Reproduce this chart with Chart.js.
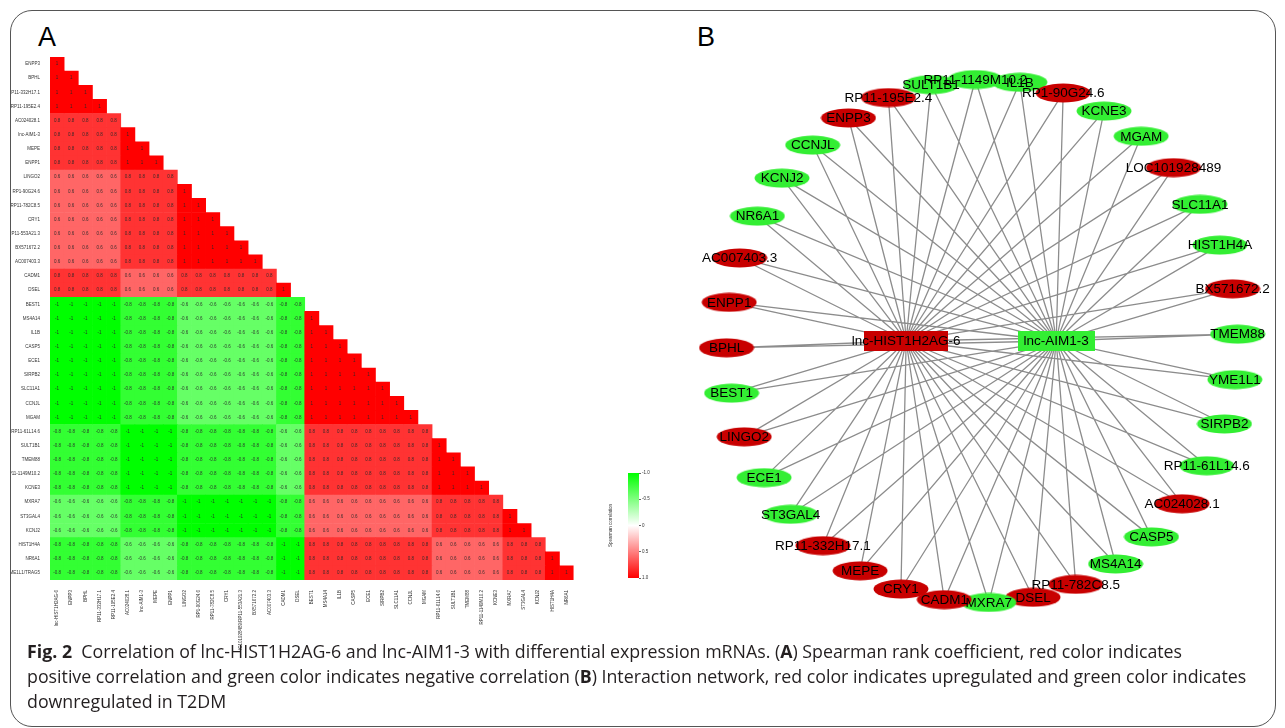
<!DOCTYPE html>
<html>
<head>
<meta charset="utf-8">
<script src="https://cdn.jsdelivr.net/npm/chart.js@4.4.0/dist/chart.umd.min.js"></script>
<style>
body { margin: 0; background: #fff; width: 1285px; height: 728px; overflow: hidden; position: relative; font-family: "Liberation Sans", Arial, sans-serif; }
#frame { position: absolute; left: 10px; top: 10px; width: 1266px; height: 717px; border: 1.3px solid #555; border-radius: 22px; box-sizing: border-box; }
canvas { position: absolute; }
#heat { left: 11px; top: 50px; }
#bar { left: 606px; top: 468px; }
#net { left: 690px; top: 40px; }
.panel { position: absolute; font-size: 27px; color: #000; }
#caption { position: absolute; left: 27px; top: 639px; font-family: "Open Sans", sans-serif; font-size: 17.8px; line-height: 25px; color: #231f20; white-space: nowrap; }
</style>
</head>
<body>
<div id="frame"></div>
<div class="panel" style="left:38px;top:22px">A</div>
<div class="panel" style="left:697px;top:22px">B</div>
<canvas id="heat" width="600" height="600"></canvas>
<canvas id="bar" width="50" height="115"></canvas>
<canvas id="net" width="590" height="600"></canvas>
<div id="caption">
<div><b>Fig. 2</b>&nbsp; Correlation of lnc-HIST1H2AG-6 and lnc-AIM1-3 with differential expression mRNAs. (<b>A</b>) Spearman rank coefficient, red color indicates</div>
<div>positive correlation and green color indicates negative correlation (<b>B</b>) Interaction network, red color indicates upregulated and green color indicates</div>
<div>downregulated in T2DM</div>
</div>
<script>
// ---- panel A: correlation matrix ----
var varNames = ["lnc-HIST1H2AG-6", "ENPP3", "BPHL", "RP11-332H17.1", "RP11-195E2.4", "AC024028.1", "lnc-AIM1-3", "MEPE", "ENPP1",
  "LINGO2", "RP1-90G24.6", "RP11-782C8.5", "CRY1", "LOC101928489/RP11-553A21.3", "BX571672.2", "AC007403.3",
  "CADM1", "DSEL", "BEST1", "MS4A14", "IL1B", "CASP5", "ECE1", "SIRPB2", "SLC11A1", "CCNJL", "MGAM",
  "RP11-61L14.6", "SULT1B1", "TMEM88", "RP11-1149M10.2", "KCNE3", "MXRA7", "ST3GAL4", "KCNJ2", "HIST1H4A", "NR6A1", "YME1L1/TRAG5"];
// block each gene falls in (the matrix is made of constant blocks)
var varGroups = [0, 0, 0, 0, 0, 1, 1, 1, 1, 2, 2, 2, 2, 2, 2, 2, 3, 3, 4, 4, 4, 4, 4, 4, 4, 4, 4, 5, 5, 5, 5, 5, 6, 6, 6, 7, 7, 7];
// spearman value between blocks
var groupCorr = [
  [1, 0.8, 0.6, 0.8, -1, -0.8, -0.6, -0.8],
  [0.8, 1, 0.8, 0.6, -0.8, -1, -0.8, -0.6],
  [0.6, 0.8, 1, 0.8, -0.6, -0.8, -1, -0.8],
  [0.8, 0.6, 0.8, 1, -0.8, -0.6, -0.8, -1],
  [-1, -0.8, -0.6, -0.8, 1, 0.8, 0.6, 0.8],
  [-0.8, -1, -0.8, -0.6, 0.8, 1, 0.8, 0.6],
  [-0.6, -0.8, -1, -0.8, 0.6, 0.8, 1, 0.8],
  [-0.8, -0.6, -0.8, -1, 0.8, 0.6, 0.8, 1]
];
var barTicks = [-1, -0.5, 0, 0.5, 1];
var barStops = ["#00ff00", "#ffffff", "#ff0000"];

var colLabels = varNames.slice(0, varNames.length - 1);
var rowLabels = varNames.slice(1);
var nRows = rowLabels.length;

function corrColor(v) {
  var w = Math.round(255 * (1 - Math.abs(v)));
  return v > 0 ? "rgb(255," + w + "," + w + ")" : "rgb(" + w + ",255," + w + ")";
}
function corrAt(r, c) {
  return groupCorr[varGroups[r + 1]][varGroups[c]];
}

// one stacked dataset per row, bottom row first
var heatSets = [];
for (var r = nRows - 1; r >= 0; r--) {
  var vals = [], cols = [], corr = [];
  for (var c = 0; c < colLabels.length; c++) {
    if (c <= r) {
      vals.push(1);
      corr.push(corrAt(r, c));
      cols.push(corrColor(corrAt(r, c)));
    } else {
      vals.push(null);
      corr.push(null);
      cols.push("rgba(0,0,0,0)");
    }
  }
  heatSets.push({ label: rowLabels[r], data: vals, corr: corr, backgroundColor: cols, borderWidth: 0, barPercentage: 1, categoryPercentage: 1 });
}

var cellText = {
  id: "cellText",
  afterDatasetsDraw: function (chart) {
    var ctx = chart.ctx;
    ctx.save();
    ctx.font = "4.5px 'Liberation Sans'";
    ctx.fillStyle = "rgba(40,40,40,0.9)";
    ctx.textAlign = "center";
    ctx.textBaseline = "middle";
    chart.data.datasets.forEach(function (ds, i) {
      chart.getDatasetMeta(i).data.forEach(function (el, j) {
        if (ds.corr[j] === null) return;
        ctx.fillText(String(ds.corr[j]), el.x, (el.y + el.base) / 2);
      });
    });
    ctx.restore();
  }
};

new Chart(document.getElementById("heat"), {
  type: "bar",
  data: { labels: colLabels, datasets: heatSets },
  options: {
    responsive: false,
    devicePixelRatio: 1,
    animation: false,
    layout: { padding: { top: 7, right: 37.4, left: 0, bottom: 0 } },
    plugins: { legend: { display: false }, tooltip: { enabled: false } },
    scales: {
      x: {
        stacked: true,
        grid: { display: false },
        border: { display: false },
        ticks: { autoSkip: false, minRotation: 90, maxRotation: 90, padding: 2, color: "#333", font: { size: 4.5, family: "Liberation Sans" } },
        afterFit: function (axis) { axis.height = 70; }
      },
      y: {
        stacked: true,
        min: 0,
        max: nRows,
        grid: { display: false },
        border: { display: false },
        afterBuildTicks: function (axis) {
          axis.ticks = rowLabels.map(function (n, i) { return { value: nRows - i - 0.5 }; });
        },
        ticks: {
          padding: 2,
          color: "#333",
          font: { size: 4.5, family: "Liberation Sans" },
          callback: function (v) { return rowLabels[Math.round(nRows - 0.5 - v)]; }
        },
        afterFit: function (axis) { axis.width = 39; }
      }
    }
  },
  plugins: [cellText]
});

// colour key
new Chart(document.getElementById("bar"), {
  type: "bar",
  data: {
    labels: [""],
    datasets: [{
      data: [[-1, 1]],
      barPercentage: 1,
      categoryPercentage: 1,
      backgroundColor: function (c) {
        var a = c.chart.chartArea;
        if (!a) return null;
        var g = c.chart.ctx.createLinearGradient(0, a.top, 0, a.bottom);
        barStops.forEach(function (s, i) { g.addColorStop(i / (barStops.length - 1), s); });
        return g;
      }
    }]
  },
  options: {
    responsive: false,
    devicePixelRatio: 1,
    animation: false,
    layout: { padding: { top: 5, bottom: 5 } },
    plugins: { legend: { display: false }, tooltip: { enabled: false } },
    scales: {
      x: { display: false },
      y: {
        position: "right",
        reverse: true,
        min: -1,
        max: 1,
        border: { display: false },
        grid: { drawOnChartArea: false, tickLength: 2, color: "#666" },
        afterBuildTicks: function (axis) { axis.ticks = barTicks.map(function (t) { return { value: t }; }); },
        ticks: { padding: 1, color: "#333", font: { size: 4.5, family: "Liberation Sans" } },
        afterFit: function (axis) { axis.width = 17; }
      },
      yl: {
        position: "left",
        min: -1,
        max: 1,
        border: { display: false },
        grid: { display: false },
        ticks: { display: false },
        title: { display: true, text: "Spearman correlation", padding: 2, color: "#333", font: { size: 4.5, family: "Liberation Sans" } },
        afterFit: function (axis) { axis.width = 22; }
      }
    }
  }
});

// ---- panel B: interaction network ----
var nodeNames = ["RP11-1149M10.2", "IL1B", "RP1-90G24.6", "KCNE3", "MGAM", "LOC101928489", "SLC11A1", "HIST1H4A", "BX571672.2",
  "TMEM88", "YME1L1", "SIRPB2", "RP11-61L14.6", "AC024028.1", "CASP5", "MS4A14", "RP11-782C8.5", "DSEL", "MXRA7",
  "CADM1", "CRY1", "MEPE", "RP11-332H17.1", "ST3GAL4", "ECE1", "LINGO2", "BEST1", "BPHL", "ENPP1", "AC007403.3",
  "NR6A1", "KCNJ2", "CCNJL", "ENPP3", "RP11-195E2.4", "SULT1B1"];
var nodeRegulation = ["down", "down", "up", "down", "down", "up", "down", "down", "up",
  "down", "down", "down", "down", "up", "down", "down", "up", "up", "down",
  "up", "up", "up", "up", "down", "down", "up", "down", "up", "up", "up",
  "down", "down", "down", "up", "up", "down"];
var hubNames = ["lnc-HIST1H2AG-6", "lnc-AIM1-3"];
var hubRegulation = ["up", "down"];

var regColor = { up: "#c80000", down: "#33ee33" };

// circular layout, clockwise from the top, ring turned a little anticlockwise
var ringTurn = -1.5 * Math.PI / 180;
var nodePts = nodeNames.map(function (n, i) {
  var t = (i / nodeNames.length) * 2 * Math.PI + ringTurn;
  return { x: Math.sin(t), y: Math.cos(t) };
});
var hubPts = [{ x: -0.297, y: 0 }, { x: 0.29, y: 0 }];

var edgePts = [];
nodePts.forEach(function (p) {
  hubPts.forEach(function (h) {
    edgePts.push({ x: h.x, y: h.y }, { x: p.x, y: p.y }, { x: p.x, y: null });
  });
});

function shape(kind, color, w, h) {
  var cv = document.createElement("canvas");
  cv.width = w;
  cv.height = h;
  var g = cv.getContext("2d");
  g.fillStyle = color;
  if (kind === "ellipse") {
    g.beginPath();
    g.ellipse(w / 2, h / 2, w / 2 - 0.5, h / 2 - 0.5, 0, 0, 2 * Math.PI);
    g.fill();
  } else {
    g.fillRect(0, 0, w, h);
  }
  return cv;
}
var nodeShapes = { up: shape("ellipse", regColor.up, 56, 20), down: shape("ellipse", regColor.down, 56, 20) };
var hubShapes = [shape("rect", regColor.up, 84, 20), shape("rect", regColor.down, 77, 20)];

var nodeText = {
  id: "nodeText",
  afterDatasetsDraw: function (chart) {
    var ctx = chart.ctx;
    ctx.save();
    ctx.font = "13.5px 'Liberation Sans'";
    ctx.fillStyle = "#000";
    ctx.textAlign = "center";
    ctx.textBaseline = "middle";
    chart.getDatasetMeta(1).data.forEach(function (el, i) { ctx.fillText(nodeNames[i], el.x, el.y + 0.5); });
    chart.getDatasetMeta(2).data.forEach(function (el, i) { ctx.fillText(hubNames[i], el.x, el.y + 0.5); });
    ctx.restore();
  }
};

new Chart(document.getElementById("net"), {
  type: "scatter",
  data: {
    datasets: [
      { data: edgePts, showLine: true, spanGaps: false, borderColor: "#8c8c8c", borderWidth: 1.3, pointRadius: 0, order: 3 },
      { data: nodePts, pointStyle: function (c) { return nodeShapes[nodeRegulation[c.dataIndex]]; }, order: 2 },
      { data: hubPts, pointStyle: function (c) { return hubShapes[c.dataIndex]; }, order: 1 }
    ]
  },
  options: {
    responsive: false,
    devicePixelRatio: 1,
    animation: false,
    layout: { padding: 0 },
    plugins: { legend: { display: false }, tooltip: { enabled: false } },
    scales: {
      x: { display: false, min: -1.123, max: 1.146 },
      y: { display: false, min: -1.1241, max: 1.1316 }
    }
  },
  plugins: [nodeText]
});
</script>
</body>
</html>
